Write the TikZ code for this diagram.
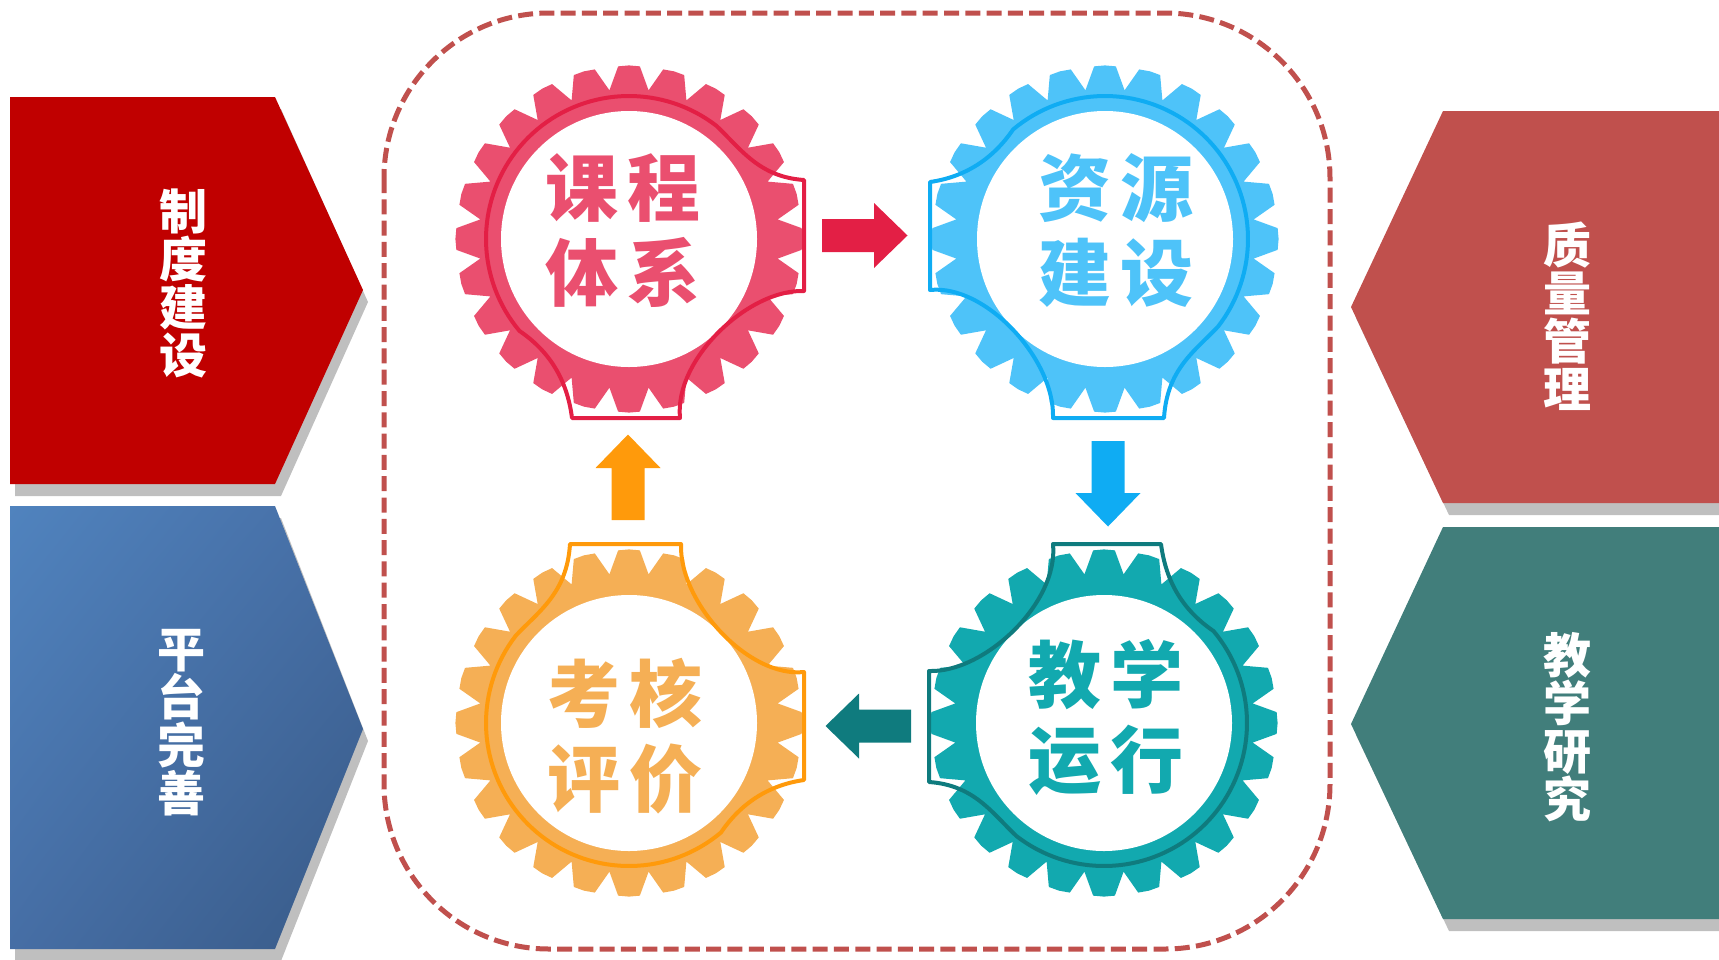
\documentclass[tikz,border=0pt]{standalone}
\usepackage{fontspec}
\setmainfont{Liberation Sans}
\newfontfamily\cjk{Noto Sans CJK SC}
\usetikzlibrary{shadings}
\definecolor{redA}{HTML}{EA4F6F}\definecolor{redB}{HTML}{E31F45}
\definecolor{bluA}{HTML}{4EC3F9}\definecolor{bluB}{HTML}{0FACF3}
\definecolor{teaA}{HTML}{12A9AF}\definecolor{teaB}{HTML}{0F7B7E}
\definecolor{oraA}{HTML}{F5AF55}\definecolor{oraB}{HTML}{FF9A0B}
\definecolor{frameC}{HTML}{C0504D}\definecolor{shadowC}{HTML}{BFBFBF}
\definecolor{deepRed}{HTML}{C00000}\definecolor{sideTeal}{HTML}{417E7B}
\definecolor{gradA}{HTML}{5083BE}\definecolor{gradB}{HTML}{466EA5}\definecolor{gradC}{HTML}{385A87}
\tikzset{
  gearlabel/.style={font=\cjk\bfseries\fontsize{73}{85}\selectfont,align=center,inner sep=0pt},
  sidelabel/.style={font=\cjk\bfseries\fontsize{48}{48}\selectfont,align=center,text=white,inner sep=0pt},
  outlinepath/.style={line width=4pt,line join=round,fill=none},
}
% #6 = reach of the tab on the local right, #7 = reach of the tab on the local bottom
\newcommand{\gearat}[7]{%
  \begin{scope}[shift={(#1,#2)},rotate=#3]
    \fill[#4] (-7.5:150) \foreach \a in {0,15,...,345}{
       -- ({\a-7.5}:150) -- ({\a-3.6}:173) -- (\a:173.6) -- ({\a+3.6}:173)} -- cycle;
    \fill[white] (0,0) circle[radius=128pt];
    \draw[outlinepath,#5] (307.7:143)
       .. controls (112,-90) and (130,-62) .. (#6,-59)
       -- (#6,52)
       .. controls (120,50) and (45,120) .. (51,#7)
       -- (-57,#7)
       .. controls (-62,140) and (-80,112) .. (140:143)
       -- plot[domain=140:307.7,samples=70] ({143*cos(\x)},{143*sin(\x)});
  \end{scope}}
\newcommand{\blockarrowat}[4]{%
  \begin{scope}[shift={(#1,#2)},rotate=#3]
    \fill[#4] (0,-16.5) -- (52,-16.5) -- (52,-32.5) -- (85.5,0) -- (52,32.5) -- (52,16.5) -- (0,16.5) -- cycle;
  \end{scope}}
\begin{document}
\begin{tikzpicture}[x=1pt,y=-1pt]
\useasboundingbox (0,0) rectangle (1719,959);
\clip (0,0) rectangle (1719,959);
% left chevrons
\fill[shadowC] (15,109) -- (281,109) -- (368,302) -- (281,496) -- (15,496) -- cycle;
\fill[deepRed] (10,97) -- (275,97) -- (363,290) -- (275,484) -- (10,484) -- cycle;
\fill[shadowC] (15,518) -- (281,518) -- (368,741) -- (281,961) -- (15,961) -- cycle;
\begin{scope}
\clip (10,506) -- (275,506) -- (363,729) -- (275,949) -- (10,949) -- cycle;
\shade[upper left=gradA,upper right=gradB,lower left=gradB,lower right=gradC] (10,506) rectangle (363,949);
\end{scope}
% right chevrons
\fill[shadowC] (1719,123) -- (1449,123) -- (1356,318) -- (1449,515) -- (1719,515) -- cycle;
\fill[frameC] (1719,111) -- (1443,111) -- (1351,307) -- (1443,503) -- (1719,503) -- cycle;
\fill[shadowC] (1719,539) -- (1449,539) -- (1356,735) -- (1449,931) -- (1719,931) -- cycle;
\fill[sideTeal] (1719,527) -- (1443,527) -- (1351,724) -- (1443,919) -- (1719,919) -- cycle;
% dashed frame
\draw[frameC,line width=5pt,dash pattern=on 15pt off 6.3pt,rounded corners=165pt] (384,13) rectangle (1330,949);
% gears
\gearat{629}{239}{0}{redA}{redB}{175}{179}
\gearat{1105}{239}{-90}{bluA}{bluB}{179}{175}
\gearat{1104}{723}{180}{teaA}{teaB}{175}{179}
\gearat{629}{723}{90}{oraA}{oraB}{179}{175}
% block arrows
\blockarrowat{822}{235.5}{0}{redB}
\blockarrowat{1108}{441}{-90}{bluB}
\blockarrowat{911}{726}{180}{teaB}
\blockarrowat{628}{520}{90}{oraB}
% labels
\node[gearlabel,text=redA] (t1) at (623,231) {课\hspace{10pt}程\\体\hspace{10pt}系};
\node[gearlabel,text=bluA] (t2) at (1116,230) {资\hspace{10pt}源\\建\hspace{10pt}设};
\node[gearlabel,text=teaA] (t3) at (1106,717) {教\hspace{10pt}学\\运\hspace{10pt}行};
\node[gearlabel,text=oraA] (t4) at (625,736) {考\hspace{10pt}核\\评\hspace{10pt}价};
\node[sidelabel] (s1) at (183,283) {制\\度\\建\\设};
\node[sidelabel] (s2) at (181,723) {平\\台\\完\\善};
\node[sidelabel] (s3) at (1567,316) {质\\量\\管\\理};
\node[sidelabel] (s4) at (1567,727) {教\\学\\研\\究};
\end{tikzpicture}
\end{document}
